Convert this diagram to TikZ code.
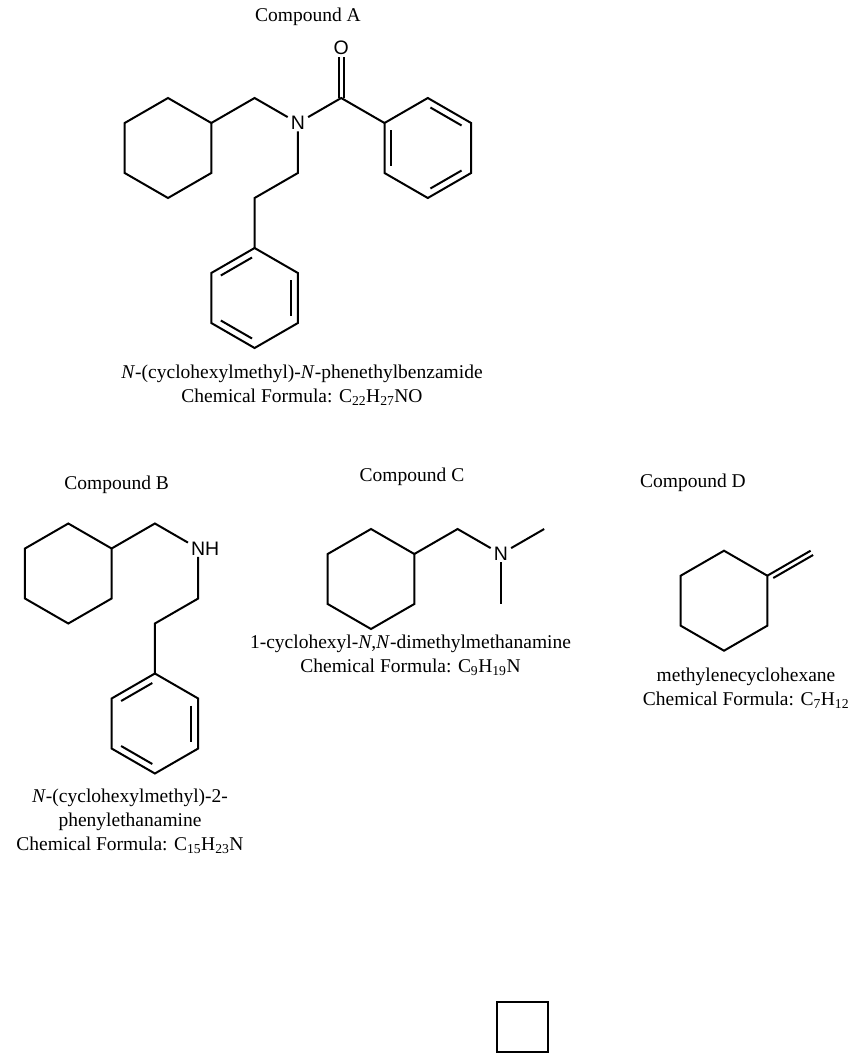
\documentclass[tikz,border=0pt]{standalone}
\usepackage{fontspec}
\setmainfont{Liberation Serif}
\newfontfamily\atomfont{Liberation Sans}
\usepackage{tikz}
\usetikzlibrary{calc}

\begin{document}
\begin{tikzpicture}[x=1pt, y=-1pt,
    bond/.style={line width=2pt},
    inner/.style={line width=2pt, shorten <=3pt, shorten >=3pt},
    atom/.style={font=\atomfont\fontsize{19.5}{19.5}\selectfont, inner xsep=3pt, inner ysep=1.5pt},
    title/.style={font=\fontsize{19.5}{24.5}\selectfont},
    lbl/.style={font=\fontsize{19.5}{24}\selectfont, align=center}]
  \useasboundingbox (0,0) rectangle (855,1057);

  % Compound A
  \node[title] (titleA) at (308,17) {Compound A};
  \coordinate (ac) at (168,148);
  \coordinate (pc) at (427.8,148);
  \coordinate (qc) at (254.6,298);
  \foreach \i/\ang in {1/-90,2/-30,3/30,4/90,5/150,6/210} {
    \coordinate (a\i) at ($(ac)+(\ang:50)$);
    \coordinate (p\i) at ($(pc)+(\ang:50)$);
    \coordinate (q\i) at ($(qc)+(\ang:50)$);
  }
  \coordinate (a7) at (254.6,98);
  \node[atom] (na) at (297.9,123) {N};
  \coordinate (ca) at (341.2,98);
  \node[atom] (oa) at (341.2,48) {O};
  \coordinate (a8) at (297.9,173);
  \coordinate (a9) at (254.6,198);
  \draw[bond] (a1) -- (a2) -- (a3) -- (a4) -- (a5) -- (a6) -- cycle;
  \draw[bond] (a2) -- (a7) -- (na) -- (ca) -- (p6);
  \draw[bond] ([xshift=-2.5pt]ca) -- ([xshift=-2.5pt]oa.south);
  \draw[bond] ([xshift=2.5pt]ca) -- ([xshift=2.5pt]oa.south);
  \draw[bond] (na) -- (a8) -- (a9) -- (q1);
  \draw[bond] (p1) -- (p2) -- (p3) -- (p4) -- (p5) -- (p6) -- cycle;
  \draw[bond] (q1) -- (q2) -- (q3) -- (q4) -- (q5) -- (q6) -- cycle;
  \foreach \u/\v in {p6/p5, p1/p2, p3/p4}
    \draw[inner] ($(\u)!0.16!(pc)$) -- ($(\v)!0.16!(pc)$);
  \foreach \u/\v in {q1/q6, q2/q3, q4/q5}
    \draw[inner] ($(\u)!0.16!(qc)$) -- ($(\v)!0.16!(qc)$);
  \node[lbl] (nameA) at (302,385) {\textit{N}-(cyclohexylmethyl)-\textit{N}-phenethylbenzamide\\
    Chemical Formula: C\textsubscript{22}H\textsubscript{27}NO};

  % Compound B
  \node[title] (titleB) at (116.7,485) {Compound B};
  \coordinate (bc) at (68.3,573.5);
  \coordinate (rc) at (154.9,723.5);
  \foreach \i/\ang in {1/-90,2/-30,3/30,4/90,5/150,6/210} {
    \coordinate (b\i) at ($(bc)+(\ang:50)$);
    \coordinate (r\i) at ($(rc)+(\ang:50)$);
  }
  \coordinate (b7) at (154.9,523.5);
  \node[atom] (nb) at (198.2,548.5) {N\rlap{H}};
  \coordinate (b8) at (198.2,598.5);
  \coordinate (b9) at (154.9,623.5);
  \draw[bond] (b1) -- (b2) -- (b3) -- (b4) -- (b5) -- (b6) -- cycle;
  \draw[bond] (b2) -- (b7) -- (nb) -- (b8) -- (b9) -- (r1);
  \draw[bond] (r1) -- (r2) -- (r3) -- (r4) -- (r5) -- (r6) -- cycle;
  \foreach \u/\v in {r1/r6, r2/r3, r4/r5}
    \draw[inner] ($(\u)!0.16!(rc)$) -- ($(\v)!0.16!(rc)$);
  \node[lbl] (nameB) at (130,821.5) {\textit{N}-(cyclohexylmethyl)-2-\\
    phenylethanamine\\
    Chemical Formula: C\textsubscript{15}H\textsubscript{23}N};

  % Compound C
  \node[title] (titleC) at (412,477) {Compound C};
  \coordinate (cc) at (371,579);
  \foreach \i/\ang in {1/-90,2/-30,3/30,4/90,5/150,6/210}
    \coordinate (c\i) at ($(cc)+(\ang:50)$);
  \coordinate (c7) at (457.6,529);
  \node[atom] (nc) at (500.9,554) {N};
  \coordinate (me1) at (544.2,529);
  \coordinate (me2) at (500.9,604);
  \draw[bond] (c1) -- (c2) -- (c3) -- (c4) -- (c5) -- (c6) -- cycle;
  \draw[bond] (c2) -- (c7) -- (nc) -- (me1);
  \draw[bond] (nc) -- (me2);
  \node[lbl] (nameC) at (410.5,655.5) {1-cyclohexyl-\textit{N},\textit{N}-dimethylmethanamine\\
    Chemical Formula: C\textsubscript{9}H\textsubscript{19}N};

  % Compound D
  \node[title] (titleD) at (693,483) {Compound D};
  \coordinate (dc) at (724,600.7);
  \foreach \i/\ang in {1/-90,2/-30,3/30,4/90,5/150,6/210}
    \coordinate (d\i) at ($(dc)+(\ang:50)$);
  \coordinate (dm) at (810.6,550.7);
  \draw[bond] (d1) -- (d2) -- (d3) -- (d4) -- (d5) -- (d6) -- cycle;
  \draw[bond] (d2) -- (dm);
  \draw[bond] ($(d2)!0.08!(dm)+(2.5,4.3)$) -- ($(dm)+(2.5,4.3)$);
  \node[lbl] (nameD) at (746,688.5) {methylenecyclohexane\\
    Chemical Formula: C\textsubscript{7}H\textsubscript{12}};

  % empty box
  \node[draw, line width=2pt, minimum width=51pt, minimum height=50pt] (box) at (522.8,1026.7) {};
\end{tikzpicture}
\end{document}
